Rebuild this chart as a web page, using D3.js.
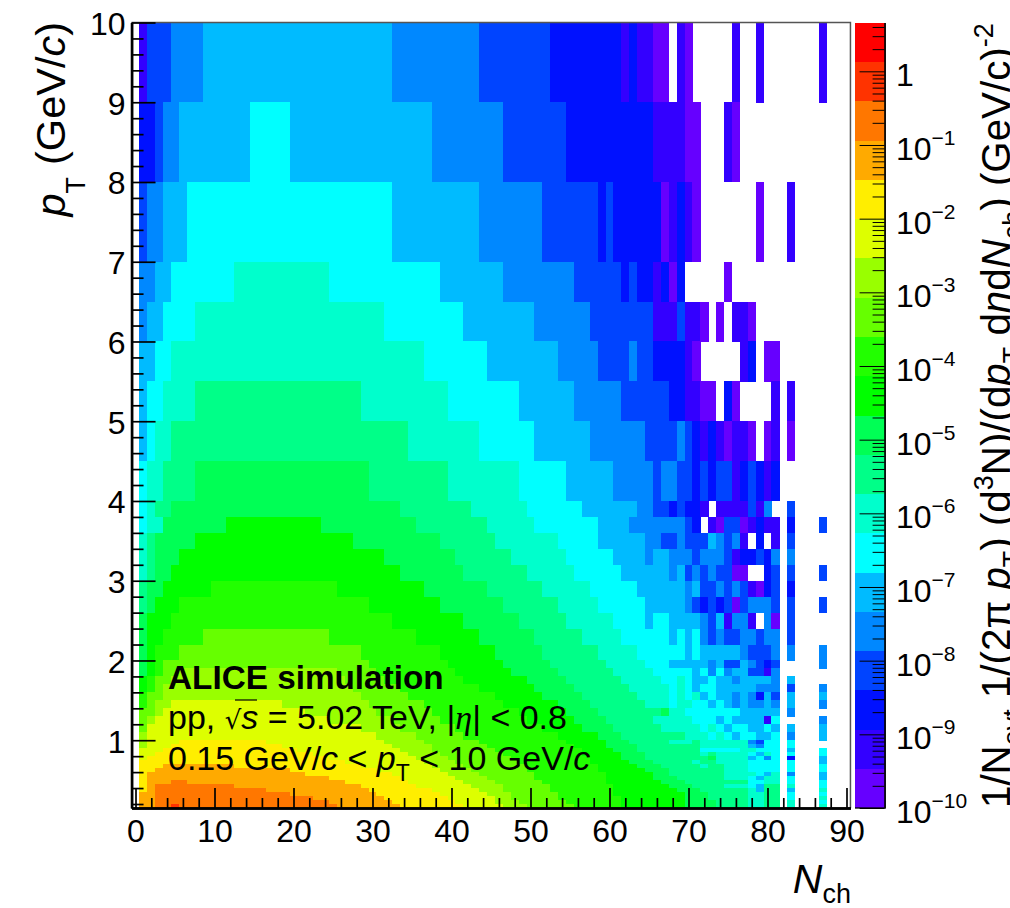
<!DOCTYPE html>
<html><head><meta charset="utf-8">
<style>html,body{margin:0;padding:0;background:#fff;overflow:hidden}svg{display:block}text{font-family:"Liberation Sans",Arial,sans-serif;fill:#000}</style>
<script src="https://cdnjs.cloudflare.com/ajax/libs/d3/7.8.5/d3.min.js"></script>
</head><body><div id="c"></div>
<script>
// pT bin edges, top to bottom
const ptEdges = [10,9,8,7,6.5,6,5.5,5,4.5,4,3.8,3.6,3.4,3.2,3,2.8,2.6,2.4,2.2,2,1.9,1.8,1.7,1.6,1.5,1.4,1.3,1.2,1.1,1,
  .95,.9,.85,.8,.75,.7,.65,.6,.55,.5,.45,.4,.35,.3,.25,.2,.15];
// Contour band per Nch bin, one string per pT row. "c:b" band b from bin c up to next entry, "c=b" the single bin c, "c:." empty.
const rowBands = [
"1:1 2:3 5:4 9:5 33:4 44:3 53:2 62=1 63=2 64:1 66:0 68:. 69=1 70=0 76=1 79=1 87=1",
"1:2 3=3 4:4 6:5 15:6 20:5 38:4 47:3 55:2 66:1 70:0 72:. 75=1 76=0",
"1=3 2:4 4:5 7:6 33:5 44:4 52:3 59=2 60=3 61:2 67=0 68=1 69=2 70=1 71=0 79=0 83=1",
"1:4 3:5 5:6 13:7 25:6 39:5 47:4 56:3 62=2 63=3 64:2 66=1 67=2 68=0 69=2 75=0",
"1=4 2:5 4:6 8:7 32:6 42:5 51:4 58:3 66:1 69=3 70:1 72=0 74=0 76:1 78=0",
"1:5 3:6 5:7 37:6 45:5 54:4 59:3 63=4 64:3 66:2 70=1 71=0 77=1 78=2 80:0 82:.",
"1=5 2:6 4:7 8:8 29:7 40:6 49:5 56:4 62:3 68:2 70:1 72:0 74:. 75=2 76=0 81=1 83=1",
"1=5 2=6 3:7 5:8 35:7 44:6 51:5 58:4 65:3 69=4 70=3 71=2 72=1 73=2 74=1 75=0 76:1 78=0 80=0 81=1 83=0",
"1=6 2:7 4:8 8:9 30:8 40:7 49:6 55:5 61:4 66=3 67:4 69:3 71=2 72=3 73=2 74:3 76=1 77=2 78=3 79=2 80=1 81=2",
"1=6 2=7 3:8 5:9 34:8 43:7 50:6 57:5 64:4 66:3 68=2 69=3 70:2 72=1 74:1 78=3 79=1 80=4 83=3",
"1=6 2:7 4:9 12:10 24:9 36:8 45:7 51:6 59:5 63:4 70=3 71=2 73=1 74=0 75:3 77=0 78=1 79=2 80:1 82:. 83=2 87=3",
"1=7 2=8 3:9 8:10 28:9 39:8 46:7 54:6 59:5 65:4 67:3 69=4 70:3 73=5 74=4 75=3 76=4 77=1 79=2 81=1 83=3",
"1=7 2=8 3:9 6:10 32:9 41:8 48:7 55:6 61:5 65=4 66:5 68:4 71=3 72:4 75=3 76=1 77:2 79=3 80=2 81=4 83=4",
"1=7 2=8 3:9 5:10 34:9 42:8 50:7 56:6 62:5 68=4 69=5 70=3 71=4 72=3 73=4 74:3 76:0 78:. 80=2 81=3 83=3 87=3",
"1=8 2:9 4:10 10:11 26:10 37:9 45:8 52:7 58:6 64:5 70=4 71=5 72:3 74=4 75=3 76=4 77=3 78=1 79=0 80=2 81=3 83=2",
"1=8 2=9 3:10 6:11 30:10 39:9 47:8 54:7 59:6 65:5 70=4 71=3 72=2 73=3 74=2 75=3 76=0 77=3 78:4 81=3 83=3 87=3",
"1=9 2:10 5:11 33:10 42:9 49:8 55:7 61:6 65=5 66:6 68:5 72=4 73=3 74=5 75=1 76:4 78=1 80=4 81=0 83=3",
"1=9 2:10 4:11 9:12 25:11 36:10 44:9 51:8 57:7 62:6 68=5 69=6 70=5 71=6 72=4 73=3 74=4 75:3 77:4 79=3 80:4 82:. 83=3",
"1=9 2=10 3:11 6:12 29:11 39:10 46:9 52:8 59:7 64:6 70=5 71=6 72:5 77=4 78:3 81=4 83=4 87=4",
"1=9 2=10 3=11 4:12 30:11 40:10 47:9 53:8 60:7 65:6 68:5 73=4 74=5 75:3 77=5 78=4 79=3 80=2 81=3 87=4",
"1=9 2=10 3=11 4:12 6:13 26:12 31:11 41:10 48:9 54:8 61:7 66:6 71=5 72=6 73=4 74=6 75=4 76:5 78:3 80=1 81=4",
"1=10 2=11 3:12 5:13 27:12 32:11 42:10 50:9 55:8 62:7 67:6 69=7 70=6 71:5 73=6 74:5 76=4 77:5 81=4 83=5",
"1=10 2=11 3=12 4:13 28:12 34:11 44:10 51:9 56:8 63:7 68=6 69=7 70=6 71=5 72:6 74:5 79:4 82:. 83=3 87=4",
"1=11 2:12 4:13 29:12 35:11 46:10 52:9 57:8 64:7 68=6 69=7 70=6 71=7 72=5 73=6 74:5 76=4 77=5 78=4 79=2 80=5 81=3 83=5 87=5",
"1=11 2=12 3:13 5:14 19:13 30:12 37:11 47:10 54:9 58:8 65:7 68=6 69:7 71:6 73=5 74=6 75=5 76=4 77=5 78:4 80=5 81=4 83=5 87=4",
"1:12 3=13 4:14 22:13 31:12 38:11 49:10 55:9 59:8 67=9 68:7 70:6 77:5 82:. 83=4",
"1=12 2=13 3:14 25:13 33:12 39:11 50:10 56:9 60:8 66:7 71:6 74=5 75=6 76:5 80=1 81=6 87=4",
"1=12 2:14 29:13 34:12 41:11 52:10 57:9 61:8 67:7 72=6 73=7 74=6 75=5 76:6 78:5 80=6 81=5 83=5 87=5",
"1=13 2:14 31:13 36:12 42:11 54:10 59:9 62:8 70:7 73=6 74=7 75=6 76=5 77:6 79:5 81=6 83=4 87=5",
"1=13 2:14 6:15 17:14 32:13 37:12 44:11 55:10 60:9 63:8 68:7 71=8 72:7 78=4 79=3 80:6 82:. 83=6",
"1=13 2:14 5:15 19:14 33:13 38:12 45:11 56:10 60:9 64:8 72:7 78=5 79=4 80:6 82:. 83=6",
"1:14 4:15 21:14 34:13 38:12 46:11 57:10 61:9 64:8 72:6 77:7 79:6 82:. 83=5 87=6",
"1:14 3:15 23:14 35:13 39:12 47:11 57:10 62:9 65:8 72=7 73=8 74:7 78=6 79=5 80=7 81=6 83=6 87=6",
"1=14 2:15 25:14 36:13 40:12 48:11 58:10 62:9 65:8 73=9 74:7 78=5 79=6 80=4 81=6 83=2 87=5",
"1:15 27:14 37:13 41:12 49:11 58:10 63:9 66:8 71=7 72:8 74:7 78:6 82:. 83=6 87=5",
"1:15 4:16 13:15 29:14 38:13 42:12 50:11 59:10 64:9 67:8 72=7 73:8 75:7 78:6 82:. 83=6 87=6",
"1:15 3:16 20:15 31:14 39:13 43:12 50:11 59:10 65:9 68:8 75:7 78:6 82:. 83=6 87=6",
"1=15 2:16 22:15 33:14 40:13 44:12 51:11 60:10 66:9 68:8 75:7 79=6 80=5 81=7 83=4 87=5",
"1=15 2:16 25:15 34:14 41:13 45:12 51:11 60:10 66:9 69:8 75:7 78=6 79=5 80:7 82:. 83=6 87=5",
"1=15 2:16 5:17 7:16 27:15 35:14 42:13 46:12 52:11 60:10 67:9 70:8 78:6 80:7 82:. 83=6 87=6",
"1=15 2=16 3:17 13:16 29:15 36:14 43:13 47:12 53:11 61:10 68:9 71:8 75:7 78=6 79=5 80:8 82:. 83=7 87=6",
"1=15 2=16 3:17 17:16 30:15 38:14 44:13 47:12 53:11 61:10 69:9 72:8 78=7 79=5 80:8 82:. 83=5 87=7",
"1:16 3:17 20:16 31:15 39:14 45:13 48:12 54:11 61:10 70:9 73:8 78:7 80:8 82:. 83=6 87=6",
"1:16 3:17 23:16 32:15 40:14 46:13 48:12 54:11 62:10 70:9 73:8 78:7 80:8 82:. 83=6 87=7",
"1:16 3:17 25:16 33:15 41:14 46:13 49:12 55:11 62:10 70:9 74:8 78:7 80:8 82:. 83=7 87=6",
"1:16 3:17 5=18 6:17 26:16 34:15 42:14 47:13 50:12 56:11 62:10 70:9 74:8 78:7 80:8 82:. 83=7 87=7"
];
const bandColors = ["#6600ff","#3300ff","#0011ff","#0044ff","#0088ff","#00bbff","#00ffff","#00ffcc","#00ff88","#00ff55",
  "#00ff00","#22ff00","#66ff00","#99ff00","#ddff00","#ffee00","#ffaa00","#ff7700","#ff3300","#ff0000"];
const xMajor = [0,10,20,30,40,50,60,70,80,90];
const yMajor = [1,2,3,4,5,6,7,8,9,10];
const zDecades = [-10,-9,-8,-7,-6,-5,-4,-3,-2,-1,0];
const zMin = 1e-10, zMax = 4.6;

const W=1010,H=908;
const svg=d3.select("#c").append("svg").attr("width",W).attr("height",H);
const x=d3.scaleLinear().domain([-.5,90.5]).range([131.55,850.45]);
const y=d3.scaleLinear().domain([.15,10]).range([808,22.5]);
const z=d3.scaleLog().domain([zMin,zMax]).range([808,22.5]);

// expand the per-row strings into cells
const cells=[];
rowBands.forEach((s,r)=>{
  const toks=s.split(" ").map(t=>{const m=t.match(/^(\d+)([:=])(.+)$/);return {c:+m[1],k:m[2],b:m[3]};});
  toks.forEach((t,i)=>{
    if(t.b===".")return;
    const end=t.k==="="?t.c+1:(i+1<toks.length?toks[i+1].c:t.c+1);
    for(let c=t.c;c<end;c++)cells.push({c,r,b:+t.b});
  });
});
svg.append("g").attr("shape-rendering","crispEdges").selectAll("rect").data(cells).join("rect")
  .attr("x",d=>x(d.c-.5)).attr("width",d=>x(d.c+.5)-x(d.c-.5)+.3)
  .attr("y",d=>y(ptEdges[d.r])).attr("height",d=>y(ptEdges[d.r+1])-y(ptEdges[d.r])+.3)
  .attr("fill",d=>bandColors[d.b]);

// frame
svg.append("path").attr("d",`M${x.range()[0]},${y(10)}H${x.range()[1]}V${y(.15)}`).attr("fill","none").attr("stroke","#555").attr("stroke-width",1.5);

function styleAxis(g){g.selectAll(".domain").attr("stroke","#000").attr("stroke-width",2.4);g.selectAll(".tick line").attr("stroke","#000").attr("stroke-width",1.7);}
const xMinor=d3.range(2,91,2).filter(v=>v%10);
svg.append("g").attr("transform",`translate(0,${y(.15)})`)
  .call(d3.axisBottom(x).tickValues(xMinor).tickSize(-10).tickSizeOuter(0).tickFormat(""))
  .call(styleAxis);
const gx=svg.append("g").attr("transform",`translate(0,${y(.15)})`)
  .call(d3.axisBottom(x).tickValues(xMajor).tickSize(-20).tickSizeOuter(0).tickPadding(11))
  .call(styleAxis);
gx.selectAll("text").attr("font-size",32).attr("font-family",'"Liberation Sans"').attr("fill","#000");
const yMinor=d3.range(1,50).map(v=>v/5).filter(v=>v%1);
svg.append("g").attr("transform",`translate(${x.range()[0]},0)`)
  .call(d3.axisLeft(y).tickValues(yMinor).tickSize(-12).tickSizeOuter(0).tickFormat(""))
  .call(styleAxis);
const gy=svg.append("g").attr("transform",`translate(${x.range()[0]},0)`)
  .call(d3.axisLeft(y).tickValues(yMajor).tickSize(-24).tickSizeOuter(0).tickPadding(6))
  .call(styleAxis);
gy.selectAll("text").attr("font-size",32).attr("font-family",'"Liberation Sans"').attr("fill","#000").attr("dy",12);

// colour bar
const barX0=855,barX1=884.6;
const lzMin=Math.log10(zMin),lzStep=(Math.log10(zMax)-lzMin)/bandColors.length;
svg.append("g").attr("shape-rendering","crispEdges").selectAll("rect").data(bandColors).join("rect")
  .attr("x",barX0).attr("width",barX1-barX0)
  .attr("y",(d,i)=>z(Math.pow(10,lzMin+(i+1)*lzStep)))
  .attr("height",(d,i)=>z(Math.pow(10,lzMin+i*lzStep))-z(Math.pow(10,lzMin+(i+1)*lzStep))+.3)
  .attr("fill",d=>d);
const zMinor=[];
zDecades.forEach(e=>[2,3,4,5,6,7,8,9].forEach(m=>{const v=m*Math.pow(10,e);if(v<=zMax)zMinor.push(v);}));
function styleZ(g){g.selectAll(".domain").attr("stroke","#000").attr("stroke-width",1.3);g.selectAll(".tick line").attr("stroke","#000").attr("stroke-width",1);}
svg.append("g").attr("transform",`translate(${barX1},0)`)
  .call(d3.axisRight(z).tickValues(zMinor).tickSize(-12).tickSizeOuter(0).tickFormat("")).call(styleZ);
svg.append("g").attr("transform",`translate(${barX1},0)`)
  .call(d3.axisRight(z).tickValues(zDecades.map(e=>Math.pow(10,e))).tickSize(-25).tickSizeOuter(0).tickFormat("")).call(styleZ);
svg.append("line").attr("x1",barX0).attr("x2",barX1).attr("y1",808).attr("y2",808).attr("stroke","#000").attr("stroke-width",1.3);
zDecades.forEach(e=>{
  const t=svg.append("text").attr("x",896).attr("y",z(Math.pow(10,e))+15).attr("font-size",32);
  if(e===0){t.text("1");return;}
  t.text("10");
  t.append("tspan").attr("font-size",21).attr("dy",-15).text("\u2212"+(-e));
});

// axis titles
const title=svg.append("text").attr("transform","translate(65,22) rotate(-90)").attr("text-anchor","end").attr("font-size",41.5);
title.append("tspan").attr("font-style","italic").text("p");
title.append("tspan").attr("font-size",27).attr("dy",20).text("T");
title.append("tspan").attr("dy",-20).attr("dx",12).text("(GeV/");
title.append("tspan").attr("font-style","italic").text("c");
title.append("tspan").text(")");

const xt=svg.append("text").attr("x",851).attr("y",893).attr("text-anchor","end").attr("font-size",41);
xt.append("tspan").attr("font-style","italic").text("N");
xt.append("tspan").attr("font-size",27).attr("dy",10).text("ch");

const zt=svg.append("text").attr("transform","translate(1010,808) rotate(-90)").attr("font-size",40.3);
const zp=(txt,o={})=>{const s=zt.append("tspan").text(txt);Object.entries(o).forEach(([k,v])=>s.attr(k,v));return s;};
zp("1/N");zp("evt",{"font-size":27,dy:12});zp(" 1/(2\u03c0 ",{dy:-12});zp("p",{"font-style":"italic"});zp("T",{"font-size":27,dy:12});
zp(") (d",{dy:-12});zp("3",{"font-size":27,dy:-17});zp("N)/(d",{dy:17});zp("p",{"font-style":"italic"});zp("T",{"font-size":27,dy:12});
zp(" d",{dy:-12});zp("\u03b7",{"font-style":"italic"});zp("d");zp("N",{"font-style":"italic"});zp("ch",{"font-size":27,dy:12});
zp(") (GeV/c)",{dy:-12});zp("-2",{"font-size":27,dy:-17});

// annotation
svg.append("text").attr("x",168).attr("y",689).attr("font-size",33.3).attr("font-weight","bold").text("ALICE simulation");
const l2=svg.append("text").attr("x",168).attr("y",729).attr("font-size",34);
l2.append("tspan").text("pp, ");
l2.append("tspan").attr("font-family","DejaVu Sans").attr("font-size",26).text("\u221a");
l2.append("tspan").attr("font-style","italic").text("s");
l2.append("tspan").text(" = 5.02 TeV, |");
l2.append("tspan").attr("font-style","italic").style("font-family",'"Liberation Serif"').text("\u03b7");
l2.append("tspan").text("| < 0.8");
svg.append("line").attr("x1",235).attr("x2",257).attr("y1",700).attr("y2",700).attr("stroke","#000").attr("stroke-width",1.2);
const l3=svg.append("text").attr("x",168).attr("y",770).attr("font-size",34);
l3.append("tspan").text("0.15 GeV/");
l3.append("tspan").attr("font-style","italic").text("c");
l3.append("tspan").text(" < ");
l3.append("tspan").attr("font-style","italic").text("p");
l3.append("tspan").attr("font-size",23).attr("dy",11).text("T");
l3.append("tspan").attr("dy",-11).text(" < 10 GeV/");
l3.append("tspan").attr("font-style","italic").text("c");
</script></body></html>
